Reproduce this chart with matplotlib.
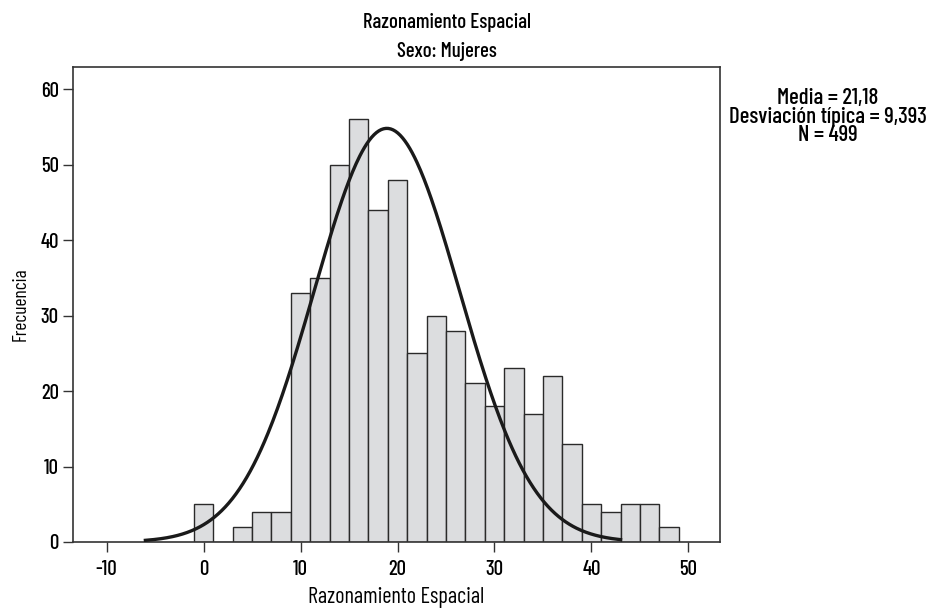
import numpy as np
import matplotlib.pyplot as plt

plt.rcParams['font.family'] = ['Barlow Condensed', 'DejaVu Sans']
plt.rcParams['font.weight'] = 'medium'
plt.rcParams['axes.unicode_minus'] = False

# Histogram data (bins of width 2, centred on even values)
bin_centers = [0, 2, 4, 6, 8, 10, 12, 14, 16, 18, 20, 22, 24, 26, 28, 30,
               32, 34, 36, 38, 40, 42, 44, 46, 48]
counts = [5, 0, 2, 4, 4, 33, 35, 50, 56, 44, 48, 25, 30, 28, 21, 18,
          23, 17, 22, 13, 5, 4, 5, 5, 2]
bin_width = 2

# Normal curve as drawn in the picture
curve_mu = 18.9
curve_sd = 7.5
curve_peak = 54.8
curve_range = (-6, 43)

stats_lines = ['Media = 21,18', 'Desviación típica = 9,393', 'N = 499']

fig = plt.figure(figsize=(9.28, 6.15), dpi=100)
ax = fig.add_axes([0.0783, 0.1187, 0.6975, 0.772])

ax.bar(bin_centers, counts, width=bin_width, color='#dcdddf',
       edgecolor='#2a2a2a', linewidth=1.0, zorder=2)

xs = np.linspace(curve_range[0], curve_range[1], 400)
ys = curve_peak * np.exp(-0.5 * ((xs - curve_mu) / curve_sd) ** 2)
ax.plot(xs, ys, color='#1a1a1a', linewidth=2.4, zorder=3)

ax.set_xlim(-13.5, 53.25)
ax.set_ylim(0, 62.9)
ax.set_xticks([-10, 0, 10, 20, 30, 40, 50])
ax.set_yticks([0, 10, 20, 30, 40, 50, 60])
ax.tick_params(direction='out', length=7, width=1, color='#333333',
               labelsize=15)
ax.tick_params(axis='x', pad=6)
ax.tick_params(axis='y', pad=3)
for s in ax.spines.values():
    s.set_color('#333333')
    s.set_linewidth(1.2)

ax.set_xlabel('Razonamiento Espacial', fontsize=16, labelpad=6)
ax.set_ylabel('Frecuencia', fontsize=14, labelpad=8)
fig.text(0.482, 0.964, 'Razonamiento Espacial', ha='center', va='center',
         fontsize=15)
fig.text(0.482, 0.917, 'Sexo: Mujeres', ha='center', va='center',
         fontsize=15)

fig.text(0.892, 0.81, '\n'.join(stats_lines), ha='center', va='center',
         fontsize=16.5, linespacing=0.9)

fig.savefig('out.png', dpi=100)
